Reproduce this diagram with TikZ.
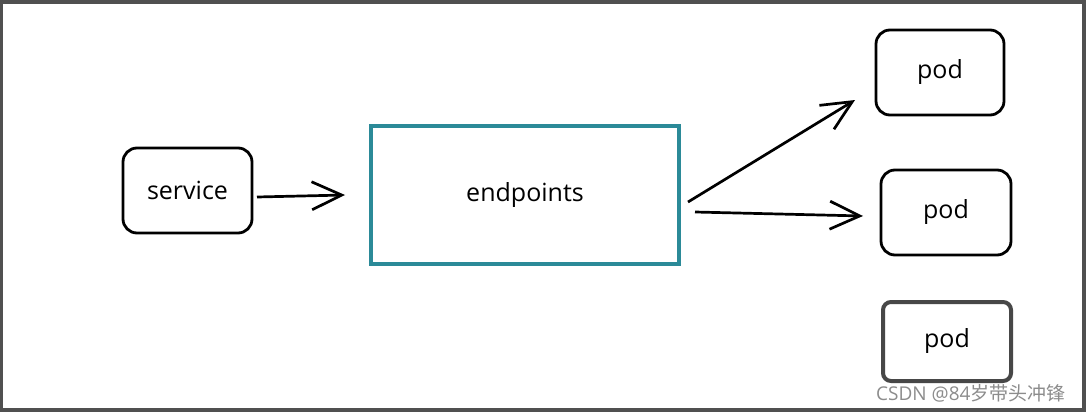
\documentclass[tikz,border=0pt]{standalone}
\usepackage{fontspec}
\setmainfont{Open Sans}
\newfontfamily\cjk{Noto Sans CJK SC}
\usetikzlibrary{arrows.meta}
\definecolor{teal1}{HTML}{2B8A98}
\definecolor{frame}{HTML}{505050}
\tikzset{
  sbox/.style={draw=black, line width=2.8pt, rounded corners=14pt, inner sep=0pt, font=\fontsize{25}{28}\selectfont},
  conn/.style={line width=2.7pt, -{Straight Barb[length=30pt,width=28pt,line width=2.7pt]}},
}
\begin{document}
\begin{tikzpicture}[x=1pt,y=-1pt]
\fill[white] (0,0) rectangle (1086,412);
\useasboundingbox (0,0) rectangle (1086,412);
% screenshot frame
\fill[frame] (0,0) rectangle (1086,4);
\fill[frame] (0,0) rectangle (3,412);
\fill[frame] (0,408) rectangle (1086,412);
\fill[frame] (1082,0) rectangle (1086,412);

\node[sbox, minimum width=129pt, minimum height=85pt] (svc) at (187.5,190.5) {service};
\node[draw=teal1, line width=3.2pt, minimum width=308pt, minimum height=138pt, inner sep=0pt, font=\fontsize{25}{28}\selectfont] (ep) at (525,195) {endpoints};
\node[sbox, minimum width=128pt, minimum height=85pt] (p1) at (940,72.5) {pod};
\node[sbox, minimum width=130pt, minimum height=85pt] (p2) at (946,212.5) {pod};
\node[sbox, draw=black!72, line width=4pt, rounded corners=8pt, minimum width=128pt, minimum height=79pt] (p3) at (947,341.5) {pod};

\coordinate (a1) at (257,197);
\coordinate (b1) at (345,195);
\draw[conn] (a1) -- (b1);
\coordinate (a2) at (688,202);
\coordinate (b2) at (855,100);
\draw[conn] (a2) -- (b2);
\coordinate (a3) at (695,212);
\coordinate (b3) at (863,216);
\draw[conn] (a3) -- (b3);

\node[text=black!45, font=\fontsize{19}{22}\selectfont, anchor=west, inner sep=0pt] (wm) at (876,393) {CSDN @84{\cjk 岁带头冲锋}};
\end{tikzpicture}
\end{document}
